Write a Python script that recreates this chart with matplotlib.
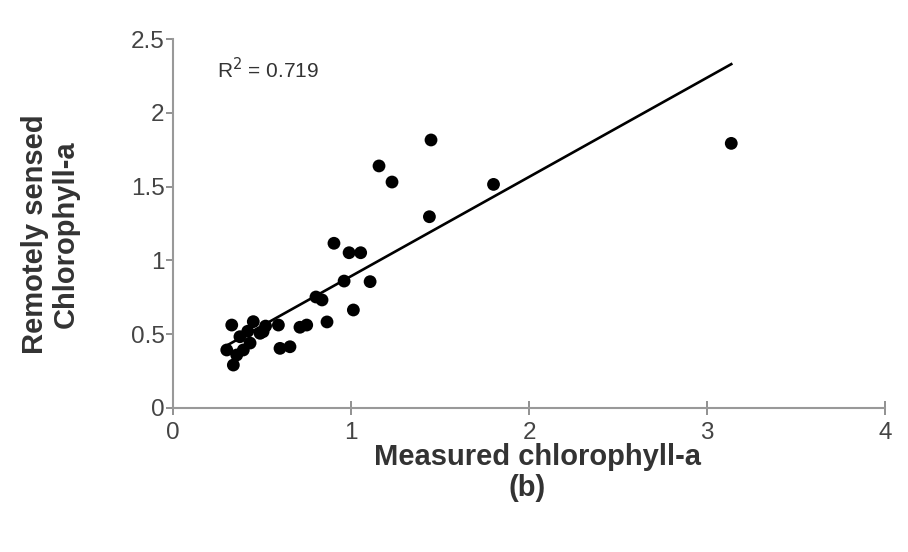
import numpy as np
import matplotlib.pyplot as plt

plt.rcParams['font.family'] = ['Liberation Sans', 'DejaVu Sans']

# measured vs remotely sensed chlorophyll-a
measured = [0.330, 0.451, 0.592, 0.751, 0.376, 0.489, 0.302, 0.395, 0.339,
            0.601, 0.657, 0.433, 0.358, 0.506, 0.420, 0.713, 0.520,
            0.904, 0.989, 1.054, 0.961, 1.107, 1.013, 0.803, 0.837, 0.865,
            1.449, 1.157, 1.230, 1.800, 1.440, 3.135]
sensed = [0.562, 0.585, 0.562, 0.562, 0.483, 0.506, 0.393, 0.393, 0.291,
          0.404, 0.415, 0.440, 0.359, 0.517, 0.520, 0.547, 0.555,
          1.116, 1.052, 1.052, 0.860, 0.856, 0.664, 0.752, 0.732, 0.583,
          1.816, 1.640, 1.531, 1.515, 1.296, 1.793]

# linear trendline coefficients
slope = 0.673
intercept = 0.22
r2 = 0.719

xticks = [0, 1, 2, 3, 4]
yticks = [0, 0.5, 1, 1.5, 2, 2.5]

fig = plt.figure(figsize=(9.08, 5.52), dpi=100)
ax = fig.add_axes([0.1905, 0.2609, 0.7845, 0.6684])

ax.scatter(measured, sensed, s=85, color='black', edgecolors='none', zorder=3)
xfit = np.array([min(measured), max(measured)])
ax.plot(xfit, slope * xfit + intercept, color='black', lw=1.9, zorder=2)

ax.text(0.25, 2.29, "R$^2$ = %.3f" % r2, fontsize=15, color='#333333',
        va='center', ha='left')

ax.set_xlim(0, 4)
ax.set_ylim(0, 2.5)
ax.set_xticks(xticks)
ax.set_yticks(yticks)
ax.set_xticklabels([str(t) for t in xticks])
ax.set_yticklabels(['0', '0.5', '1', '1.5', '2', '2.5'])

for s in ['top', 'right']:
    ax.spines[s].set_visible(False)
for s in ['left', 'bottom']:
    ax.spines[s].set_color('#999999')
    ax.spines[s].set_linewidth(1.5)

ax.tick_params(axis='y', direction='out', length=5, width=1.3, color='#888888',
               labelsize=17.5, labelcolor='#444444', pad=1)
ax.tick_params(axis='x', direction='inout', length=10, width=1.3, color='#888888',
               labelsize=17.5, labelcolor='#444444', pad=5)

ax.set_xlabel("Measured chlorophyll-a", fontsize=21, fontweight='bold',
              color='#333333')
ax.xaxis.set_label_coords(0.512, -0.095)
ax.set_ylabel("Remotely sensed\nChlorophyll-a", fontsize=21, fontweight='bold',
              color='#333333', linespacing=1.1)
ax.yaxis.set_label_coords(-0.131, 0.47)
fig.text(0.58, 0.116, "(b)", fontsize=21, fontweight='bold', color='#333333',
         ha='center', va='center')

fig.savefig("out.png", dpi=100)
